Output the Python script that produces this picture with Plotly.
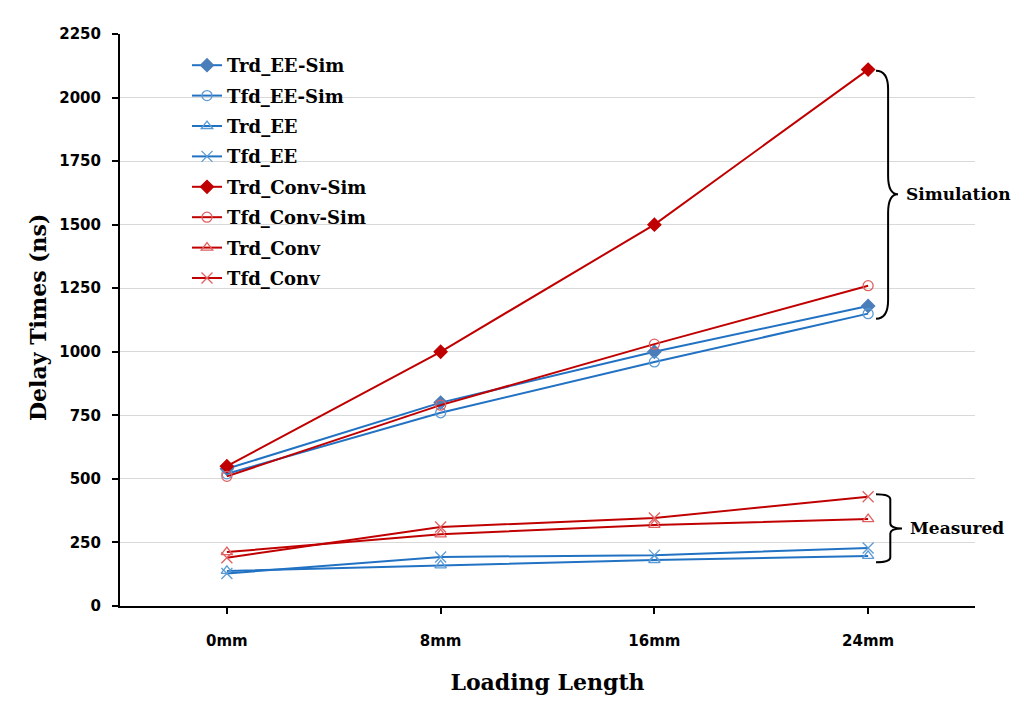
import plotly.graph_objects as go

categories = ["0mm", "8mm", "16mm", "24mm"]

trd_ee_sim = [540, 800, 1000, 1180]
tfd_ee_sim = [520, 760, 960, 1150]
trd_ee = [138, 160, 181, 197]
tfd_ee = [128, 193, 200, 228]
trd_conv_sim = [550, 1000, 1500, 2110]
tfd_conv_sim = [510, 790, 1030, 1260]
trd_conv = [212, 282, 319, 342]
tfd_conv = [190, 311, 346, 430]

yticks = [0, 250, 500, 750, 1000, 1250, 1500, 1750, 2000, 2250]

BLUE = "#2272C3"
BLUE_M = "#5B9BD5"
BLUE_D = "#4A7EBB"
RED = "#C00000"
RED_M = "#E06060"

series = [
    ("Trd_EE-Sim", trd_ee_sim, BLUE, "diamond", BLUE_D),
    ("Tfd_EE-Sim", tfd_ee_sim, BLUE, "circle-open", BLUE_M),
    ("Trd_EE", trd_ee, BLUE, "triangle-up-open", BLUE_M),
    ("Tfd_EE", tfd_ee, BLUE, "x-thin-open", BLUE_M),
    ("Trd_Conv-Sim", trd_conv_sim, RED, "diamond", RED),
    ("Tfd_Conv-Sim", tfd_conv_sim, RED, "circle-open", RED_M),
    ("Trd_Conv", trd_conv, RED, "triangle-up-open", RED_M),
    ("Tfd_Conv", tfd_conv, RED, "x-thin-open", RED_M),
]

SERIF = "DejaVu Serif"
SANS = "DejaVu Sans"

# plot area in window pixels (page has an 8px body offset)
L, R, T, B = 120, 975, 34, 606
OFF = 8

fig = go.Figure()
for name, vals, lc, sym, mc in series:
    fig.add_trace(go.Scatter(
        x=categories, y=vals, name=name, mode="lines+markers", legendgroup=name,
        line=dict(color=lc, width=2),
        marker=dict(symbol=sym, size=11 if "x-thin" in sym else 10, color=mc,
                    line=dict(color=mc, width=1.3)),
    ))

def brace(x0, xtip, ytop, ybot, ymid):
    w = xtip - x0
    xm = x0 + w * 0.55
    return (f"M {x0},{ytop} Q {xm},{ytop} {xm},{ytop - (ytop-ymid)*0.15} "
            f"L {xm},{ymid + (ytop-ymid)*0.15} Q {xm},{ymid} {xtip},{ymid} "
            f"Q {xm},{ymid} {xm},{ymid - (ymid-ybot)*0.15} "
            f"L {xm},{ybot + (ymid-ybot)*0.15} Q {xm},{ybot} {x0},{ybot}")

def px2paper(px):
    return (px - L) / float(R - L)

def py2paper(py):
    return (B - py) / float(B - T)

shapes = [
    dict(type="path", xref="paper", yref="y",
         path=brace(px2paper(876), px2paper(898), 2105, 1130, 1620),
         line=dict(color="black", width=2)),
    dict(type="path", xref="paper", yref="y",
         path=brace(px2paper(876), px2paper(902), 440, 172, 305),
         line=dict(color="black", width=2)),
]

annotations = [
    dict(x=px2paper(904), y=1620, xref="paper", yref="y", text="<b>Simulation</b>",
         showarrow=False, xanchor="left", yanchor="middle",
         font=dict(family=SERIF, size=17, color="black")),
    dict(x=px2paper(908), y=305, xref="paper", yref="y", text="<b>Measured</b>",
         showarrow=False, xanchor="left", yanchor="middle",
         font=dict(family=SERIF, size=17, color="black")),
    dict(x=px2paper(38), y=py2paper(318), xref="paper", yref="paper",
         text="<b>Delay Times (ns)</b>", textangle=-90, showarrow=False,
         xanchor="center", yanchor="middle",
         font=dict(family=SERIF, size=22, color="black")),
]

fig.update_layout(
    width=1024, height=709,
    margin=dict(l=L - OFF, r=1024 + OFF - R, t=T - OFF, b=709 + OFF - B),
    paper_bgcolor="white", plot_bgcolor="white",
    shapes=shapes, annotations=annotations,
    showlegend=True,
    legend=dict(x=px2paper(187), y=py2paper(47), xanchor="left", yanchor="top",
                font=dict(family=SERIF, size=18, color="black", weight="bold"),
                bgcolor="rgba(0,0,0,0)", itemwidth=30, tracegroupgap=4),
    xaxis=dict(
        type="category", range=[-0.5, 3.5],
        showline=True, linecolor="black", linewidth=2,
        ticks="outside", ticklen=6, tickwidth=2, tickcolor="black",
        showgrid=False, zeroline=False, ticklabelstandoff=14,
        tickfont=dict(family=SANS, size=15, color="black", weight="bold"),
        title=dict(text="<b>Loading Length</b>", standoff=26,
                   font=dict(family=SERIF, size=22, color="black")),
    ),
    yaxis=dict(
        range=[0, 2250], tickvals=yticks,
        showline=True, linecolor="black", linewidth=2,
        ticks="outside", ticklen=6, tickwidth=2, tickcolor="black",
        showgrid=True, gridcolor="#D9D9D9", gridwidth=1.3, zeroline=False,
        ticklabelstandoff=8,
        tickfont=dict(family=SANS, size=15, color="black", weight="bold"),
    ),
)

fig.write_html("out.html")
